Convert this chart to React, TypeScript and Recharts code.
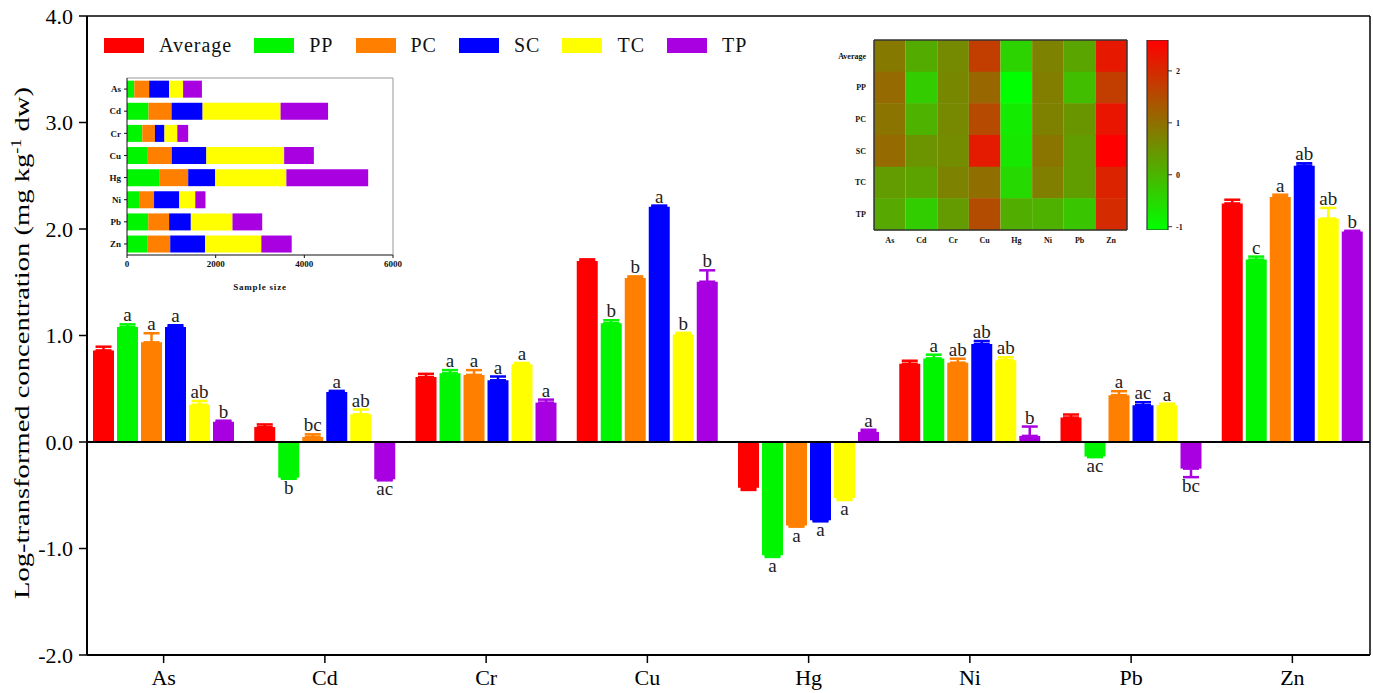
import React from 'react';
import { BarChart, Bar, XAxis, YAxis, ErrorBar, LabelList, ReferenceLine, Cell, Label } from 'recharts';

// ---------- categories & series ----------
const elements = ['As', 'Cd', 'Cr', 'Cu', 'Hg', 'Ni', 'Pb', 'Zn'];
const seriesNames = ['Average', 'PP', 'PC', 'SC', 'TC', 'TP'];
const seriesKeys = ['average', 'pp', 'pc', 'sc', 'tc', 'tp'];
const seriesColors = ['#FF0000', '#00F500', '#FF8000', '#0000FF', '#FFFF00', '#A800E0'];

// log-transformed concentrations
const average = [0.86, 0.14, 0.61, 1.70, -0.43, 0.735, 0.23, 2.24];
const pp = [1.08, -0.335, 0.645, 1.115, -1.064, 0.785, -0.137, 1.713];
const pc = [0.936, 0.047, 0.63, 1.54, -0.785, 0.745, 0.44, 2.30];
const sc = [1.08, 0.47, 0.58, 2.21, -0.735, 0.92, 0.345, 2.595];
const tc = [0.35, 0.26, 0.73, 1.01, -0.525, 0.767, 0.345, 2.098];
const tp = [0.19, -0.35, 0.37, 1.505, 0.095, 0.057, -0.25, 1.977];

// standard errors
const averageErr = [0.035, 0.025, 0.03, 0.015, 0.02, 0.028, 0.028, 0.035];
const ppErr = [0.025, 0.01, 0.03, 0.028, 0.015, 0.035, 0.005, 0.028];
const pcErr = [0.085, 0.025, 0.045, 0.015, 0.01, 0.037, 0.037, 0.022];
const scErr = [0.016, 0.01, 0.035, 0.01, 0.01, 0.028, 0.028, 0.022];
const tcErr = [0.035, 0.045, 0.012, 0.015, 0.02, 0.028, 0.015, 0.10];
const tpErr = [0.01, 0.01, 0.028, 0.107, 0.02, 0.088, 0.08, 0.006];

// significance letters
const averageLetters = ['', '', '', '', '', '', '', ''];
const ppLetters = ['a', 'b', 'a', 'b', 'a', 'a', 'ac', 'c'];
const pcLetters = ['a', 'bc', 'a', 'b', 'a', 'ab', 'a', 'a'];
const scLetters = ['a', 'a', 'a', 'a', 'a', 'ab', 'ac', 'ab'];
const tcLetters = ['ab', 'ab', 'a', 'b', 'a', 'ab', 'a', 'ab'];
const tpLetters = ['b', 'ac', 'a', 'b', 'a', 'b', 'bc', 'b'];

const yTicks = [-2, -1, 0, 1, 2, 3, 4];

// inset: sample sizes
const samplePP = [165, 485, 345, 470, 740, 290, 480, 455];
const samplePC = [335, 520, 285, 540, 640, 320, 470, 520];
const sampleSC = [450, 700, 215, 780, 605, 570, 490, 785];
const sampleTC = [315, 1760, 290, 1755, 1610, 360, 940, 1270];
const sampleTP = [425, 1070, 245, 670, 1845, 230, 670, 685];
const sampleTicks = [0, 2000, 4000, 6000];

const colorbarTicks = [-1, 0, 1, 2];

// ---------- derived tables ----------
const allValues = [average, pp, pc, sc, tc, tp];
const allErrs = [averageErr, ppErr, pcErr, scErr, tcErr, tpErr];
const allLetters = [averageLetters, ppLetters, pcLetters, scLetters, tcLetters, tpLetters];

const mainData = elements.map((el, i) => {
  const row: any = { name: el };
  allValues.forEach((vals, s) => {
    const k = seriesKeys[s];
    const e = allErrs[s][i];
    row[k] = vals[i];
    row[k + 'Err'] = vals[i] >= 0 ? [0, e] : [e, 0];
  });
  return row;
});

const sampleSeries = [samplePP, samplePC, sampleSC, sampleTC, sampleTP];
const sampleKeys = ['PP', 'PC', 'SC', 'TC', 'TP'];
const sampleData = elements.map((el, i) => {
  const row: any = { name: el };
  sampleSeries.forEach((vals, s) => { row[sampleKeys[s]] = vals[i]; });
  return row;
});

const flatVals = allValues.flat();
const vMin = Math.min(...flatVals);
const vMax = Math.max(...flatVals);
const heatColor = (v: number) => {
  const t = (v - vMin) / (vMax - vMin);
  return `rgb(${Math.round(255 * t)},${Math.round(255 * (1 - t))},0)`;
};
const heatRows = seriesNames.map((n) => {
  const row: any = { row: n };
  elements.forEach((el) => { row[el] = 1; });
  return row;
});
const heatTicks = elements.map((_, i) => i + 0.5);
const cbData = [{ name: 'scale', range: [vMin, vMax] }];

const FONT = '"Liberation Serif", "Times New Roman", serif';

const makeLetter = (vals: number[], errs: number[], letters: string[]) => (props: any) => {
  const index = props.index;
  const vb = props.viewBox || {};
  const x = props.x ?? vb.x;
  const y = props.y ?? vb.y;
  const w = props.width ?? vb.width;
  const h = props.height ?? vb.height;
  const letter = letters[index];
  if (!letter || x == null) return null;
  const v = vals[index];
  const top = Math.min(y, y + h);
  const bot = Math.max(y, y + h);
  const ppu = Math.abs(h) / Math.max(Math.abs(v), 1e-6);
  const cx = x + w / 2;
  const off = errs[index] * ppu;
  if (v >= 0) {
    return (
      <text x={cx} y={top - off - 3} textAnchor="middle" fontSize={19} fill="#222" fontFamily={FONT}>
        {letter}
      </text>
    );
  }
  return (
    <text x={cx} y={bot + off + 15} textAnchor="middle" fontSize={19} fill="#222" fontFamily={FONT}>
      {letter}
    </text>
  );
};

const YLabel = () => (
  <text
    transform="translate(29,343) rotate(-90) scale(1.3,1)"
    textAnchor="middle"
    fontSize={22}
    fill="#000"
    fontFamily={FONT}
  >
    <tspan>Log-transformed concentration  (mg kg</tspan>
    <tspan fontSize={14} dy={-8}>-1</tspan>
    <tspan dy={8}> dw)</tspan>
  </text>
);

const smallTick = { fontSize: 9, fontWeight: 'bold', fill: '#111', fontFamily: FONT } as any;

export default function App() {
  return (
    <div style={{ position: 'absolute', left: 0, top: 0, width: 1373, height: 693, background: '#fff', fontFamily: FONT }}>
      <svg width={0} height={0} style={{ position: 'absolute' }}>
        <defs>
          <linearGradient id="cbGrad" x1="0" y1="0" x2="0" y2="1">
            <stop offset="0%" stopColor="rgb(255,0,0)" />
            <stop offset="100%" stopColor="rgb(0,255,0)" />
          </linearGradient>
        </defs>
      </svg>

      {/* main chart */}
      <div style={{ position: 'absolute', left: 0, top: 0 }}>
        <BarChart
          width={1373}
          height={693}
          data={mainData}
          margin={{ top: 15, right: 2, left: 0, bottom: 0 }}
          barGap={3}
        >
          <XAxis
            dataKey="name"
            height={38}
            interval={0}
            tickSize={8}
            tickMargin={6}
            padding={{ left: -4, right: -3 }}
            tick={{ fontSize: 22, fill: '#000', fontFamily: FONT }}
            axisLine={{ stroke: '#000', strokeWidth: 2 }}
            tickLine={{ stroke: '#000', strokeWidth: 1.5 }}
          />
          <XAxis
            xAxisId="top"
            orientation="top"
            dataKey="name"
            height={1}
            tick={false}
            tickLine={false}
            axisLine={{ stroke: '#000', strokeWidth: 1.5 }}
          />
          <YAxis
            domain={[-2, 4]}
            ticks={yTicks}
            interval={0}
            width={87}
            tickSize={8}
            tickMargin={6}
            tickFormatter={(v: number) => v.toFixed(1)}
            tick={{ fontSize: 22, fill: '#000', fontFamily: FONT }}
            axisLine={{ stroke: '#000', strokeWidth: 2 }}
            tickLine={{ stroke: '#000', strokeWidth: 1.5 }}
            label={{ content: () => <YLabel /> }}
          />
          <YAxis
            yAxisId="right"
            orientation="right"
            domain={[-2, 4]}
            width={1}
            tick={false}
            tickLine={false}
            axisLine={{ stroke: '#000', strokeWidth: 1.5 }}
          />
          <ReferenceLine y={0} stroke="#000" strokeWidth={2} />
          {seriesKeys.map((k, s) => (
            <Bar key={k} dataKey={k} fill={seriesColors[s]} barSize={21} isAnimationActive={false}>
              <ErrorBar dataKey={k + 'Err'} width={8} stroke={seriesColors[s]} strokeWidth={2.5} direction="y" />
              <LabelList dataKey={k} content={makeLetter(allValues[s], allErrs[s], allLetters[s])} />
            </Bar>
          ))}
        </BarChart>
      </div>

      {/* legend */}
      <div style={{ position: 'absolute', left: 104, top: 34, display: 'flex', alignItems: 'center', height: 22 }}>
        {seriesNames.map((n, s) => (
          <div key={n} style={{ display: 'flex', alignItems: 'center', marginRight: 22 }}>
            <div style={{ width: 40, height: 15, background: seriesColors[s], marginRight: 15 }} />
            <span style={{ fontSize: 20, letterSpacing: 1, color: '#111', lineHeight: '22px' }}>{n}</span>
          </div>
        ))}
      </div>

      {/* inset: sample size */}
      <div style={{ position: 'absolute', left: 80, top: 70 }}>
        <BarChart
          width={325}
          height={230}
          layout="vertical"
          data={sampleData}
          margin={{ top: 7, right: 11, left: 0, bottom: 0 }}
          barCategoryGap="12%"
        >
          <XAxis
            type="number"
            domain={[0, 6000]}
            ticks={sampleTicks}
            interval={0}
            height={45}
            tickSize={3}
            tickMargin={3}
            tick={smallTick}
            axisLine={{ stroke: '#111' }}
            tickLine={{ stroke: '#111' }}
          >
            <Label value="Sample size" position="insideBottom" offset={10} style={{ fontSize: 9, fontWeight: 'bold', fill: '#111', letterSpacing: 0.8 }} />
          </XAxis>
          <XAxis xAxisId="top" orientation="top" type="number" domain={[0, 6000]} height={1} tick={false} tickLine={false} axisLine={{ stroke: '#999' }} />
          <YAxis
            type="category"
            dataKey="name"
            width={47}
            tickSize={3}
            tickMargin={3}
            tick={smallTick}
            axisLine={{ stroke: '#111' }}
            tickLine={{ stroke: '#111' }}
          />
          <YAxis yAxisId="right" orientation="right" type="category" dataKey="name" width={1} tick={false} tickLine={false} axisLine={{ stroke: '#999' }} />
          {sampleKeys.map((k, s) => (
            <Bar key={k} dataKey={k} stackId="n" fill={seriesColors[s + 1]} isAnimationActive={false} />
          ))}
        </BarChart>
      </div>

      {/* inset: heatmap */}
      <div style={{ position: 'absolute', left: 800, top: 30 }}>
        <BarChart
          width={340}
          height={225}
          layout="vertical"
          data={heatRows}
          margin={{ top: 9, right: 12, left: 0, bottom: 0 }}
          barCategoryGap={0}
        >
          <XAxis
            type="number"
            domain={[0, 8]}
            ticks={heatTicks}
            interval={0}
            height={25}
            tickSize={0}
            tickMargin={7}
            tickFormatter={(v: number) => elements[Math.floor(v)]}
            tick={{ fontSize: 8, fontWeight: 'bold', fill: '#111', fontFamily: FONT }}
            axisLine={{ stroke: '#333', strokeWidth: 1.5 }}
            tickLine={false}
          />
          <XAxis xAxisId="top" orientation="top" type="number" domain={[0, 8]} height={1} tick={false} tickLine={false} axisLine={{ stroke: '#333', strokeWidth: 1.5 }} />
          <YAxis
            type="category"
            dataKey="row"
            width={74}
            tickSize={0}
            tickMargin={8}
            tick={{ fontSize: 8, fontWeight: 'bold', fill: '#111', fontFamily: FONT }}
            axisLine={{ stroke: '#333', strokeWidth: 1.5 }}
            tickLine={false}
          />
          <YAxis yAxisId="right" orientation="right" type="category" dataKey="row" width={1} tick={false} tickLine={false} axisLine={{ stroke: '#333', strokeWidth: 1.5 }} />
          {elements.map((el, c) => (
            <Bar key={el} dataKey={el} stackId="h" isAnimationActive={false}>
              {allValues.map((vals, r) => (
                <Cell key={r} fill={heatColor(vals[c])} />
              ))}
            </Bar>
          ))}
        </BarChart>
      </div>

      {/* inset: colour bar */}
      <div style={{ position: 'absolute', left: 1140, top: 30 }}>
        <BarChart
          width={62}
          height={225}
          data={cbData}
          margin={{ top: 10, right: 0, left: 7, bottom: 25 }}
          barCategoryGap={0}
        >
          <XAxis dataKey="name" hide />
          <YAxis
            orientation="right"
            type="number"
            domain={[vMin, vMax]}
            allowDataOverflow
            ticks={colorbarTicks}
            interval={0}
            width={34}
            tickSize={4}
            tickMargin={4}
            tick={{ fontSize: 8, fontWeight: 'bold', fill: '#111', fontFamily: FONT }}
            axisLine={false}
            tickLine={{ stroke: '#333' }}
          />
          <Bar dataKey="range" fill="url(#cbGrad)" stroke="#333" strokeWidth={1.2} isAnimationActive={false} />
        </BarChart>
      </div>
    </div>
  );
}
